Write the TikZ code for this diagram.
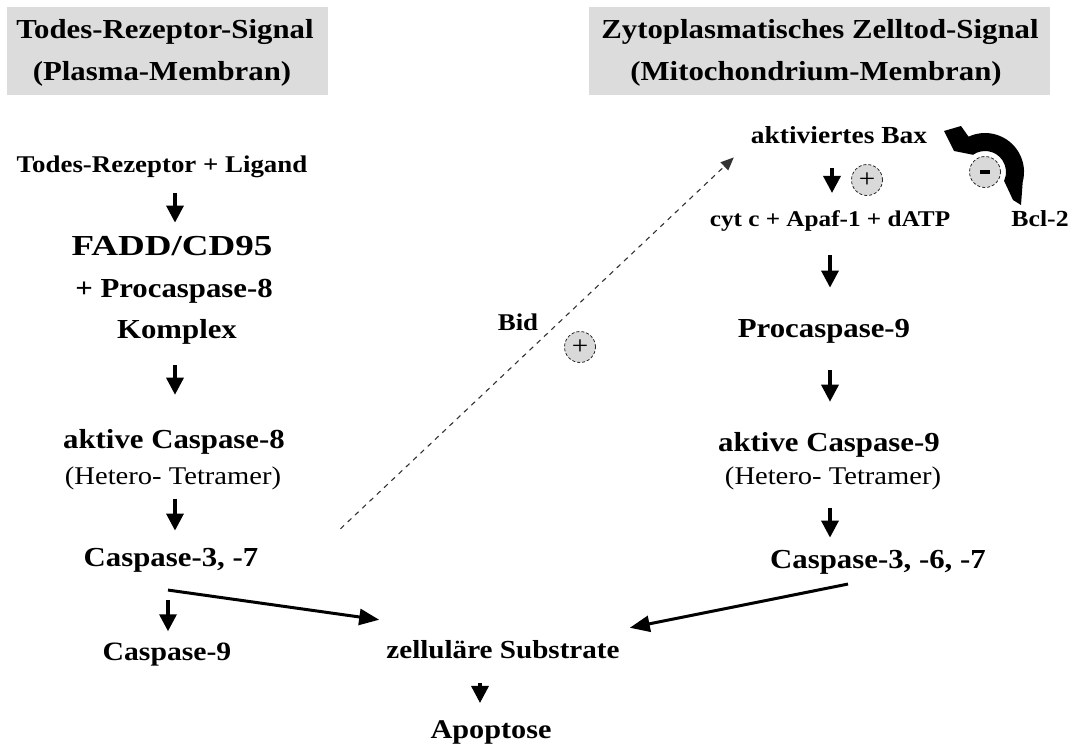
\documentclass[tikz,border=0pt]{standalone}
\usepackage{fontspec}
\usepackage{graphicx}
\setmainfont{Liberation Serif}[FakeStretch=1.12]
\usetikzlibrary{arrows.meta}
\definecolor{boxgray}{HTML}{DCDCDC}
\definecolor{pmgray}{HTML}{D9D9D9}
\definecolor{dashgray}{HTML}{333333}
\tikzset{
  txt/.style={font=\fontsize{#1}{#1}\selectfont\bfseries, inner sep=0pt, anchor=base},
  reg/.style={font=\fontsize{#1}{#1}\selectfont, inner sep=0pt, anchor=base},
  headbox/.style={fill=boxgray, inner sep=0pt},
  dn/.style={line width=3.4pt, -{Triangle[length=17pt,width=17pt]}},
  longarr/.style={line width=3pt, -{Triangle[length=20pt,width=16pt]}},
  dasharr/.style={dashgray, line width=1.1pt, dash pattern=on 5pt off 5pt,
    -{Triangle[length=13pt,width=11pt]}},
  pm/.style={circle, minimum size=31pt, inner sep=0pt, fill=pmgray,
    draw=black!85, densely dashed, line width=0.8pt,
    font=\fontsize{26}{26}\selectfont}
}
\begin{document}
\begin{tikzpicture}[x=1pt,y=-1pt]
\useasboundingbox (0,0) rectangle (1072,744);

% headings
\node[headbox, minimum width=321pt, minimum height=88pt] (lbox) at (167.5,51) {};
\node[headbox, minimum width=461pt, minimum height=88pt] (rbox) at (819.5,51) {};
\node[txt=27.5] (lt1) at (165,38) {Todes-Rezeptor-Signal};
\node[txt=27.5] (lt2) at (162,80) {(Plasma-Membran)};
\node[txt=27.5] (rt1) at (820,38) {Zytoplasmatisches Zelltod-Signal};
\node[txt=27.5] (rt2) at (816,80) {(Mitochondrium-Membran)};

% death receptor pathway
\node[txt=24]   (todes)   at (162,172) {Todes-Rezeptor + Ligand};
\node[txt=29]   (fadd)    at (172,255) {\scalebox{1.14}[1]{FADD/CD95}};
\node[txt=27.5] (proc8)   at (174,297) {+ Procaspase-8};
\node[txt=27.5] (komplex) at (177,338) {Komplex};
\node[txt=27.5] (akt8)    at (174,448) {aktive Caspase-8};
\node[reg=25.5] (het8)    at (173,484) {(Hetero- Tetramer)};
\node[txt=27.5] (casp37)  at (171,566) {Caspase-3, -7};
\node[txt=26.5] (casp9)   at (167,660) {Caspase-9};

% common end
\node[txt=26]   (substr)  at (503,658) {zelluläre Substrate};
\node[txt=27]   (apop)    at (491,738) {Apoptose};

% mitochondrial pathway
\node[txt=24.5] (bax)     at (839,143) {aktiviertes Bax};
\node[txt=22.5] (cyt)     at (830,226) {cyt c + Apaf-1 + dATP};
\node[txt=23]   (bcl)     at (1040,226) {Bcl-2};
\node[txt=27.5] (proc9)   at (824,337) {Procaspase-9};
\node[txt=27.5] (akt9)    at (829,451) {aktive Caspase-9};
\node[reg=25.5] (het9)    at (833,484) {(Hetero- Tetramer)};
\node[txt=27.5] (casp367) at (878,568) {Caspase-3, -6, -7};
\node[txt=24]   (bid)     at (518,330) {Bid};

% plus / minus markers
\node[pm] (plusbax) at (867,180) {+};
\node[pm] (plusbid) at (580,347) {+};
\node[pm] (minbcl)  at (985,172) {\rule{10pt}{4pt}};

% left column arrows
\draw[dn] ([xshift=13pt,yshift=-16pt]todes.south) -- ([xshift=3pt,yshift=13pt]fadd.north);
\draw[dn] ([xshift=-2pt,yshift=-21pt]komplex.south) -- ([xshift=1pt,yshift=34pt]akt8.north);
\draw[dn] ([xshift=2pt,yshift=-9pt]het8.south) -- ([xshift=4pt,yshift=17pt]casp37.north);
\draw[dn] ([xshift=-3pt,yshift=-28pt]casp37.south) -- ([xshift=1pt,yshift=11pt]casp9.north);
\draw[longarr] ([xshift=-3pt,yshift=-18pt]casp37.south) -- ([xshift=-7pt,yshift=20pt]substr.north west);

% right column arrows
\draw[dn] ([xshift=-7pt,yshift=-25pt]bax.south) -- ([xshift=2pt,yshift=17pt]cyt.north);
\draw[dn] ([yshift=-24pt]cyt.south) -- ([xshift=6pt,yshift=31pt]proc9.north);
\draw[dn] ([xshift=6pt,yshift=-27pt]proc9.south) -- ([xshift=1pt,yshift=30pt]akt9.north);
\draw[dn] ([xshift=-3pt,yshift=-18pt]het9.south) -- ([xshift=-48pt,yshift=12pt]casp367.north);
\draw[longarr] ([xshift=-30pt,yshift=-10pt]casp367.south) -- ([xshift=10pt,yshift=12pt]substr.north east);

% substrates to apoptosis
\draw[dn] ([xshift=-23pt,yshift=-24pt]substr.south) -- ([xshift=-11pt,yshift=17pt]apop.north);

% Bid cross-talk
\draw[dasharr] ([xshift=82pt,yshift=31pt]casp37.east) -- ([xshift=-17pt,yshift=-14pt]bax.south west);

% Bcl-2 inhibition: block arrow bent round the minus marker
\fill (1021,205) -- (1022.7,182.1)
  arc[start angle=15, end angle=-115, radius=39]
  -- (961,126) -- (944,131) -- (954,151) -- (973,154.8)
  arc[start angle=-125, end angle=25, radius=21]
  -- (1013,200) -- cycle;
\end{tikzpicture}
\end{document}
